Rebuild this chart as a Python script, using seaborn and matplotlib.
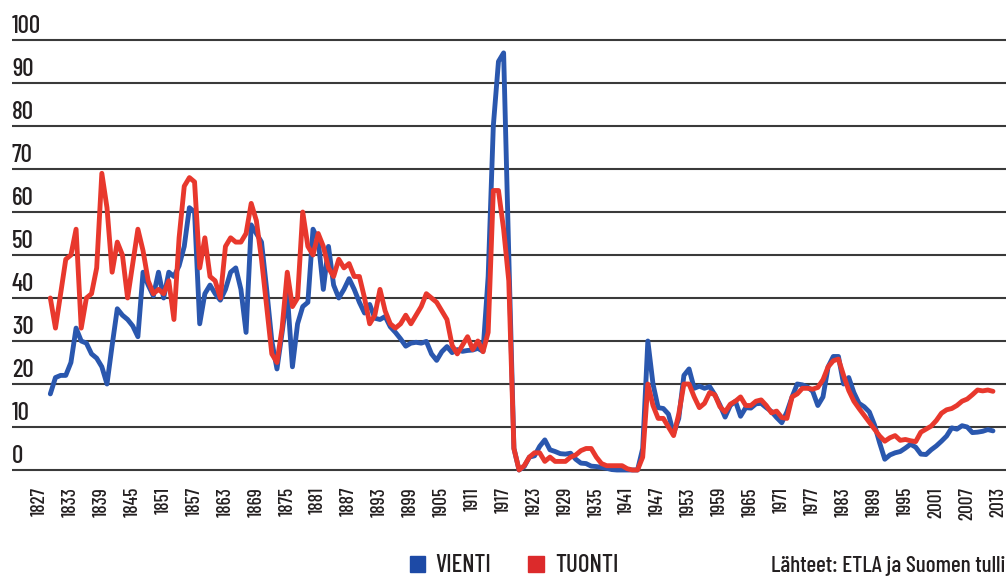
import numpy as np
import pandas as pd
import matplotlib
matplotlib.use('Agg')
import matplotlib.pyplot as plt
import seaborn as sns
from matplotlib import font_manager as fm
from matplotlib.patches import Rectangle

# Venäjän osuus Suomen viennistä ja tuonnista (%), vuodet 1829-2012
first_year = 1829

vienti = [
    17.7, 21.5, 22, 22, 25, 33, 30, 29.5, 27, 26,            # 1829-1838
    24, 20, 29, 37.5, 36, 35, 33.5, 31, 46, 43,              # 1839-1848
    40.5, 46, 40, 46, 45, 47.5, 52, 61, 60, 34,              # 1849-1858
    41, 43, 41, 39.5, 42, 46, 47, 42, 32, 57,                # 1859-1868
    55, 53, 42, 30, 23.5, 32, 41, 24, 34, 38,                # 1869-1878
    39, 56, 53.5, 42, 52, 43, 40, 42, 44.5, 42,              # 1879-1888
    39, 36.5, 38.5, 35.3, 35, 35.7, 33.3, 32, 30.5, 28.8,    # 1889-1898
    29.5, 29.7, 29.5, 29.9, 27, 25.5, 27.5, 28.7, 27.3, 28,  # 1899-1908
    27.6, 27.8, 27.9, 28.3, 27.6, 45, 80, 95, 97, 50,        # 1909-1918
    5, 0, 0.8, 3, 3.3, 5.5, 7, 4.7, 4.3, 3.8,                # 1919-1928
    3.7, 3.9, 2.5, 1.6, 1.5, 0.9, 0.8, 0.6, 0.4, 0.1,        # 1929-1938
    0, 0, 0, 0, 0, 5, 30, 20, 14.5, 14.3,                    # 1939-1948
    13, 8.5, 12, 22, 23.5, 19, 19.5, 19, 19.4, 17.5,         # 1949-1958
    15.1, 12.3, 15, 16, 12.5, 14.5, 14.4, 15.4, 15.5, 14.5,  # 1959-1968
    13.6, 12.2, 11, 13.5, 17, 20, 19.8, 19.3, 18.3, 15,      # 1969-1978
    17, 24, 26.4, 26.4, 20, 21.5, 18, 15.5, 14.7, 13.5,      # 1979-1988
    10.5, 6.3, 2.5, 3.5, 4, 4.3, 5.1, 6, 5.3, 3.7,           # 1989-1998
    3.6, 4.7, 5.6, 6.7, 7.9, 9.8, 9.5, 10.3, 10, 8.7,        # 1999-2008
    8.8, 9, 9.4, 9.1,                                        # 2009-2012
]

tuonti = [
    40, 33, 41, 49, 50, 56, 33, 40, 41, 47,                  # 1829-1838
    69, 61, 46, 53, 50, 40, 48, 56, 51, 44,                  # 1839-1848
    41, 42, 41, 44, 35, 54, 66, 68, 67, 47,                  # 1849-1858
    54, 45, 44, 40, 52, 54, 53, 53, 55, 62,                  # 1859-1868
    58, 49, 38, 27, 25, 33, 46, 38, 40, 60,                  # 1869-1878
    52, 50, 55, 52, 47, 45, 49, 47, 48, 45,                  # 1879-1888
    45, 40, 34, 36, 42, 37, 34, 33, 34, 36,                  # 1889-1898
    34, 36, 38, 41, 40, 39, 37, 35, 29, 27,                  # 1899-1908
    29, 31, 28, 30, 27.5, 32, 65, 65, 56, 44,                # 1909-1918
    5, 0, 1, 3, 4, 4, 2, 3, 2, 2,                            # 1919-1928
    2, 3, 3.5, 4.5, 5, 5, 3, 1.5, 1, 1,                      # 1929-1938
    1, 1, 0.3, 0, 0, 3, 20, 15, 12, 12,                      # 1939-1948
    10, 8, 13, 20, 20, 17, 14.5, 15.5, 18, 17.5,             # 1949-1958
    14.7, 13.5, 15.3, 16, 17, 15, 15, 16, 16.3, 15,          # 1959-1968
    13.3, 13.7, 12.2, 12, 17, 17.7, 19, 19, 18.8, 19.2,      # 1969-1978
    21, 24, 25.4, 25.8, 22, 18.5, 16, 14.3, 12.7, 11.1,      # 1979-1988
    9.5, 7.9, 6.7, 7.5, 8, 6.9, 7.1, 6.8, 6.6, 8.8,          # 1989-1998
    9.5, 10.2, 11.5, 13.2, 14, 14.3, 15, 16, 16.5, 17.5,     # 1999-2008
    18.6, 18.4, 18.6, 18.3,                                  # 2009-2012
]

tick_years = list(range(1827, 2014, 6))
y_ticks = list(range(0, 101, 10))
series_names = ['VIENTI', 'TUONTI']
source_text = 'Lähteet: ETLA ja Suomen tulli'

years = np.arange(first_year, first_year + len(vienti))
df = pd.DataFrame({
    'vuosi': np.concatenate([years, years]),
    'osuus': vienti + tuonti,
    'sarja': ['VIENTI'] * len(vienti) + ['TUONTI'] * len(tuonti),
})

sns.set_theme(style='white')

# pick a condensed font that is installed
installed = {f.name for f in fm.fontManager.ttflist}
prefs = ['Barlow Condensed', 'Roboto Condensed', 'PT Sans Narrow', 'Archivo Narrow',
         'Fira Sans Condensed', 'Asap Condensed', 'Liberation Sans Narrow', 'DejaVu Sans']
narrow = [p for p in prefs if p in installed][0]
plt.rcParams['font.family'] = [narrow, 'DejaVu Sans']
plt.rcParams['font.weight'] = 500

W, H = 1006, 576
blue = '#2a57ae'
red = '#e8382d'
text_col = '#231f20'

fig = plt.figure(figsize=(W / 100, H / 100), dpi=100)
renderer = fig.canvas.get_renderer()


def fit_size(s, target_px):
    # font size that makes text s about target_px wide
    t = fig.text(0, 0, s, fontsize=10)
    w = t.get_window_extent(renderer=renderer).width
    t.remove()
    return 10 * target_px / w


ax = fig.add_axes([12 / W, (H - 482.9) / H, 994 / W, (482.9 - 27.1) / H])

# gridlines
for v in y_ticks:
    ax.axhline(v, color='#3a3a3a', lw=1.5, zorder=1)

sns.lineplot(data=df, x='vuosi', y='osuus', hue='sarja', hue_order=series_names,
             palette={'VIENTI': blue, 'TUONTI': red}, linewidth=3.5,
             errorbar=None, legend=False, ax=ax, zorder=3,
             solid_joinstyle='round', solid_capstyle='round')

ax.set_xlim(1821.56, 2014.53)
ax.set_ylim(-3, 103)
for s in ax.spines.values():
    s.set_visible(False)
ax.set_xlabel('')
ax.set_ylabel('')

ysize = min(fit_size('100', 30), 18)
ax.set_yticks([])
for v in y_ticks:
    ax.annotate(str(v), xy=(0, v), xycoords=('axes fraction', 'data'),
                xytext=(0, 5), textcoords='offset points',
                ha='left', va='baseline', fontsize=ysize, color=text_col)

xsize = min(fit_size('1827', 36), 14)
ax.set_xticks(tick_years)
ax.set_xticklabels([str(y) for y in tick_years], rotation=90,
                   fontsize=xsize, color=text_col)
ax.tick_params(axis='x', length=0, pad=3)

# legend and source
base = (H - 572) / H
fig.patches.append(Rectangle((410 / W, base), 15 / W, 16 / H,
                             transform=fig.transFigure, color='#1d4aa6'))
fig.text(435 / W, base, series_names[0], fontsize=min(fit_size(series_names[0], 56), 18),
         color=text_col, va='baseline')
fig.patches.append(Rectangle((528 / W, base), 16 / W, 16 / H,
                             transform=fig.transFigure, color='#dc2a2b'))
fig.text(555 / W, base, series_names[1], fontsize=min(fit_size(series_names[1], 64), 18),
         color=text_col, va='baseline')
fig.text(1005 / W, base, source_text, fontsize=min(fit_size(source_text, 234), 18),
         color=text_col, ha='right', va='baseline')

fig.savefig('out.png', dpi=100)
